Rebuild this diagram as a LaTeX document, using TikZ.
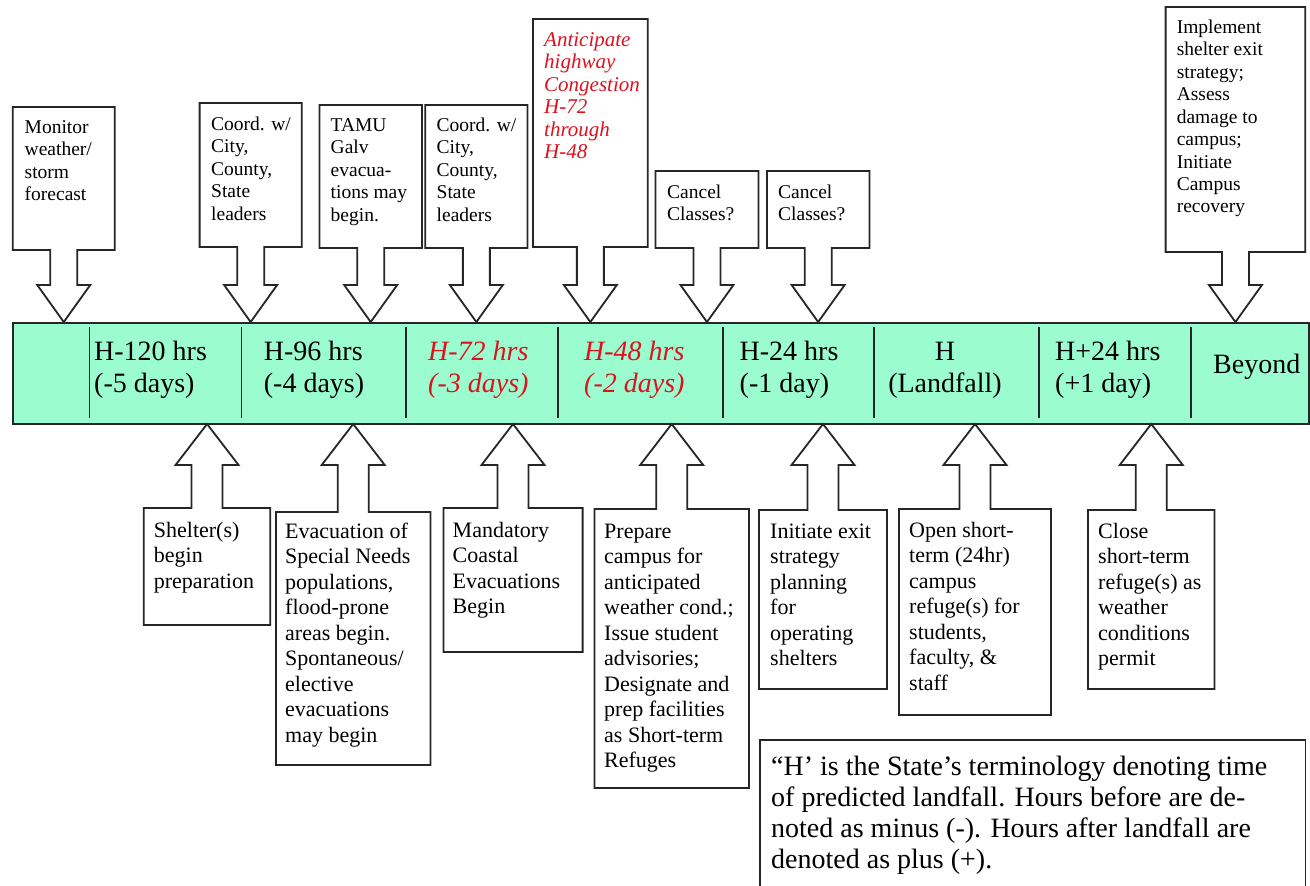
\documentclass[tikz,border=0pt]{standalone}
\usepackage{fontspec}
\setmainfont{Liberation Serif}
\definecolor{bandfill}{RGB}{155,252,208}
\definecolor{hred}{RGB}{222,18,30}
\newcommand\tlines[1]{\begin{tabular}[t]{@{}l@{}}#1\end{tabular}}
\newcommand\clines[1]{\begin{tabular}[t]{@{}c@{}}#1\end{tabular}}
\tikzset{
  callout/.style={draw=black!85, line width=1.8pt, fill=white, line join=miter},
  bandbox/.style={draw=black!85, line width=1.8pt, fill=bandfill},
  divider/.style={draw=black!85, line width=1.8pt},
  toptext/.style={anchor=base west, inner sep=0pt, font=\fontsize{19.5}{22.5}\selectfont},
  bottext/.style={anchor=base west, inner sep=0pt, font=\fontsize{22}{25.5}\selectfont},
  bandtext/.style={anchor=base west, inner sep=0pt, font=\fontsize{28}{32}\selectfont},
  redtext/.style={text=hred, font=\fontsize{28}{32}\selectfont\itshape},
  notetext/.style={anchor=base west, inner sep=0pt, font=\fontsize{28}{31}\selectfont},
}
\newcommand\downcallout[4]{%
  \pgfmathsetmacro\ccx{(#1+#2)/2}%
  \draw[callout] (#1,#3) -- (#2,#3) -- (#2,#4) -- (\ccx+13.5,#4) -- (\ccx+13.5,285)
    -- (\ccx+26.5,285) -- (\ccx,322) -- (\ccx-26.5,285) -- (\ccx-13.5,285)
    -- (\ccx-13.5,#4) -- (#1,#4) -- cycle;}
\newcommand\upcallout[4]{%
  \pgfmathsetmacro\ccx{(#1+#2)/2}%
  \draw[callout] (#1,#3) -- (\ccx-15.5,#3) -- (\ccx-15.5,465) -- (\ccx-31.5,465)
    -- (\ccx,424) -- (\ccx+31.5,465) -- (\ccx+15.5,465) -- (\ccx+15.5,#3)
    -- (#2,#3) -- (#2,#4) -- (#1,#4) -- cycle;}
\begin{document}
\begin{tikzpicture}[x=1pt,y=-1pt]
\useasboundingbox (0,0) rectangle (1310,886);
\fill[white] (0,0) rectangle (1310,886);

% band
\draw[bandbox] (12.7,323) rectangle (1309,424);
\foreach \dx in {89.5,241.4,406,558,722.6,873.6,1039,1191}
  \draw[divider] (\dx,327) -- (\dx,418);

% band labels
\node[bandtext] (c1) at (94,360) {\tlines{H-120 hrs\\(-5 days)}};
\node[bandtext] (c2) at (263.7,360) {\tlines{H-96 hrs\\(-4 days)}};
\node[bandtext,redtext] (c3) at (428,360) {\tlines{H-72 hrs\\(-3 days)}};
\node[bandtext,redtext] (c4) at (584,360) {\tlines{H-48 hrs\\(-2 days)}};
\node[bandtext] (c5) at (739.5,360) {\tlines{H-24 hrs\\(-1 day)}};
\node[bandtext,anchor=base] (c6) at (945,360) {\clines{H\\(Landfall)}};
\node[bandtext] (c7) at (1055,360) {\tlines{H+24 hrs\\(+1 day)}};
\node[bandtext] (c8) at (1213,373) {Beyond};

% top callouts
\downcallout{12.7}{114.8}{107}{250}
\node[toptext] (t1) at (24.5,133) {\tlines{Monitor\\weather/\\storm\\forecast}};
\downcallout{199.6}{301.7}{103}{247}
\node[toptext] (t2) at (211,130) {\tlines{Coord. w/\\City,\\County,\\State\\leaders}};
\downcallout{319.4}{422}{105}{248}
\node[toptext] (t3) at (330.5,131) {\tlines{TAMU\\Galv\\evacua-\\tions may\\begin.}};
\downcallout{425.3}{527.4}{105}{248}
\node[toptext] (t4) at (436.5,131) {\tlines{Coord. w/\\City,\\County,\\State\\leaders}};
\downcallout{533}{647.7}{19}{247}
\node[toptext,text=hred,font=\fontsize{21}{22.5}\selectfont\itshape] (t5) at (544,46) {\tlines{Anticipate\\highway\\Congestion\\H-72\\through\\H-48}};
\downcallout{655.5}{758.4}{171}{248}
\node[toptext] (t6) at (667,198) {\tlines{Cancel\\Classes?}};
\downcallout{766.9}{869.4}{171}{248}
\node[toptext] (t7) at (778,198) {\tlines{Cancel\\Classes?}};
\downcallout{1165.6}{1305.3}{7}{252}
\node[toptext] (t8) at (1176.6,33) {\tlines{Implement\\shelter exit\\strategy;\\Assess\\damage to\\campus;\\Initiate\\Campus\\recovery}};

% bottom callouts
\upcallout{143.8}{270.3}{508}{625}
\node[bottext] (b1) at (153.7,537) {\tlines{Shelter(s)\\begin\\preparation}};
\upcallout{276}{430.4}{512}{765}
\node[bottext] (b2) at (285,538) {\tlines{Evacuation of\\Special Needs\\populations,\\flood-prone\\areas begin.\\Spontaneous/\\elective\\evacuations\\may begin}};
\upcallout{443.4}{582.6}{508}{652}
\node[bottext] (b3) at (452.5,537) {\tlines{Mandatory\\Coastal\\Evacuations\\Begin}};
\upcallout{594.4}{749}{509}{788}
\node[bottext] (b4) at (604,538) {\tlines{Prepare\\campus for\\anticipated\\weather cond.;\\Issue student\\advisories;\\Designate and\\prep facilities\\as Short-term\\Refuges}};
\upcallout{759}{887}{510}{689}
\node[bottext] (b5) at (770,538) {\tlines{Initiate exit\\strategy\\planning\\for\\operating\\shelters}};
\upcallout{899}{1051}{509}{715}
\node[bottext] (b6) at (909,537) {\tlines{Open short-\\term (24hr)\\campus\\refuge(s) for\\students,\\faculty, \&\\staff}};
\upcallout{1088}{1214.5}{510}{689}
\node[bottext] (b7) at (1098,538) {\tlines{Close\\short-term\\refuge(s) as\\weather\\conditions\\permit}};

% note
\draw[callout] (760,740) rectangle (1305.5,892);
\node[notetext] (note) at (771,775) {\tlines{“H’ is the State’s terminology denoting time\\of predicted landfall. Hours before are de-\\noted as minus (-). Hours after landfall are\\denoted as plus (+).}};
\end{tikzpicture}
\end{document}
